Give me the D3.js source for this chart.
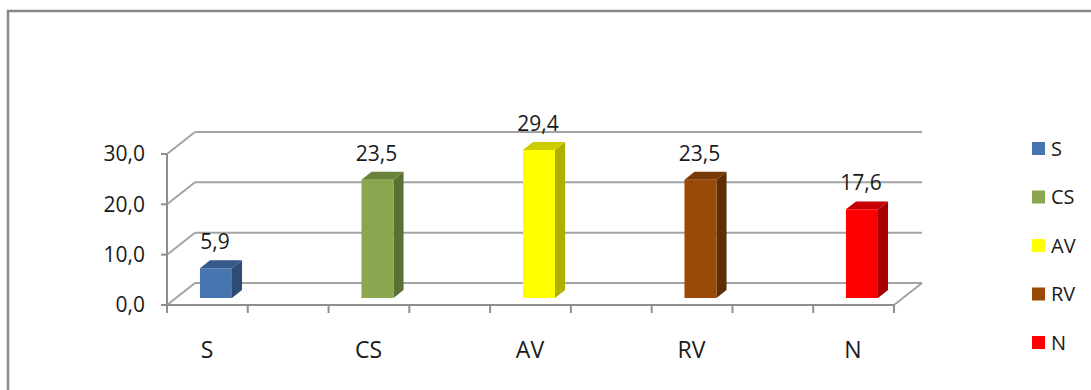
<!DOCTYPE html>
<html lang="en">
<head>
    <meta charset="UTF-8">
    <title>S CS AV RV N</title>
    <script src="https://d3js.org/d3.v7.min.js"></script>
    <style>
        body {
            margin: 0;
            padding: 0;
            background-color: #fff;
            font-family: "Open Sans", Arial, sans-serif;
        }

        #chart {
            display: block;
        }

        .grid {
            stroke: #a3a3a3;
            stroke-width: 2px;
            fill: none;
        }

        .axis-line {
            stroke: #8f8f8f;
            stroke-width: 2px;
            fill: none;
        }

        .tick-label {
            font-size: 21px;
            fill: #1a1a1a;
        }

        .cat-label {
            font-size: 23px;
            fill: #1a1a1a;
        }

        .legend-label {
            font-size: 20px;
            fill: #1a1a1a;
        }
    </style>
</head>
<body>
<svg id="chart" width="1091" height="390"></svg>

<script>
    // Data
    const categories = ['S', 'CS', 'AV', 'RV', 'N'];
    const values = [5.9, 23.5, 29.4, 23.5, 17.6];
    const yTicks = [0, 10, 20, 30];
    const yTickLabels = ['0,0', '10,0', '20,0', '30,0'];

    // front / side / top colours for each bar
    const frontColors = ['#4675b0', '#8aa64e', '#ffff00', '#9a4a07', '#ff0000'];
    const sideColors = ['#2e4d75', '#5c7033', '#b0b000', '#5f2d03', '#a80000'];
    const topColors = ['#335a8a', '#6a833a', '#cccc00', '#773905', '#c40000'];

    const svg = d3.select('#chart');

    // Outer frame (goes off the right and bottom edge)
    svg.append('rect')
        .attr('x', 8)
        .attr('y', 11)
        .attr('width', 1200)
        .attr('height', 500)
        .attr('fill', 'none')
        .attr('stroke', '#8a8a8a')
        .attr('stroke-width', 2.5);

    // 3D setup: depth offset for the back wall
    const depthX = 28;
    const depthY = -22;

    // Scales
    const y = d3.scaleLinear().domain([0, 30]).range([305, 154]);
    const floorX = d3.scaleLinear().domain([0, 9]).range([167, 894]);
    const x = d3.scalePoint().domain(categories).range([207, 853]);
    const barWidth = 32;
    const barFront = 0.32;
    const barBack = 0.68;

    function proj(px, v, d) {
        return [px + depthX * d, y(v) + depthY * d];
    }

    const xLeft = floorX(0);
    const xRight = floorX(9);

    // Back wall gridlines
    svg.append('g')
        .selectAll('line')
        .data(yTicks)
        .join('line')
        .attr('class', 'grid')
        .attr('x1', xLeft + depthX)
        .attr('x2', xRight + depthX)
        .attr('y1', d => y(d) + depthY)
        .attr('y2', d => y(d) + depthY);

    // Side wall lines (front axis to back wall)
    svg.append('g')
        .selectAll('line')
        .data(yTicks)
        .join('line')
        .attr('class', 'grid')
        .attr('x1', xLeft)
        .attr('x2', xLeft + depthX)
        .attr('y1', d => y(d))
        .attr('y2', d => y(d) + depthY);

    // Floor right edge
    svg.append('line')
        .attr('class', 'grid')
        .attr('x1', xRight)
        .attr('y1', y(0))
        .attr('x2', xRight + depthX)
        .attr('y2', y(0) + depthY);

    // Front vertical axis
    svg.append('line')
        .attr('class', 'axis-line')
        .attr('x1', xLeft)
        .attr('x2', xLeft)
        .attr('y1', y(30))
        .attr('y2', y(0));

    // Y ticks and labels
    svg.append('g')
        .selectAll('line')
        .data(yTicks)
        .join('line')
        .attr('class', 'axis-line')
        .attr('x1', xLeft - 6)
        .attr('x2', xLeft)
        .attr('y1', d => y(d))
        .attr('y2', d => y(d));

    svg.append('g')
        .selectAll('text')
        .data(yTicks)
        .join('text')
        .attr('class', 'tick-label')
        .attr('x', xLeft - 22)
        .attr('y', d => y(d))
        .attr('dy', '0.35em')
        .attr('text-anchor', 'end')
        .text((d, i) => yTickLabels[i]);

    // Front bottom axis with ticks
    svg.append('line')
        .attr('class', 'axis-line')
        .attr('x1', xLeft)
        .attr('x2', xRight)
        .attr('y1', y(0))
        .attr('y2', y(0));

    svg.append('g')
        .selectAll('line')
        .data(d3.range(10))
        .join('line')
        .attr('class', 'axis-line')
        .attr('x1', d => floorX(d))
        .attr('x2', d => floorX(d))
        .attr('y1', y(0))
        .attr('y2', y(0) + 8);

    // Category labels
    svg.append('g')
        .selectAll('text')
        .data(categories)
        .join('text')
        .attr('class', 'cat-label')
        .attr('x', d => x(d))
        .attr('y', 358)
        .attr('text-anchor', 'middle')
        .text(d => d);

    // Bars as three faces
    const bars = svg.append('g')
        .selectAll('g')
        .data(categories)
        .join('g');

    bars.each(function (c, i) {
        const g = d3.select(this);
        const v = values[i];
        const l = x(c) - barWidth / 2;
        const r = x(c) + barWidth / 2;

        const f0 = proj(l, 0, barFront), f1 = proj(r, 0, barFront);
        const f2 = proj(r, v, barFront), f3 = proj(l, v, barFront);
        const b1 = proj(r, 0, barBack), b2 = proj(r, v, barBack), b3 = proj(l, v, barBack);

        // side
        g.append('polygon')
            .attr('points', [f1, b1, b2, f2].join(' '))
            .attr('fill', sideColors[i]);
        // top
        g.append('polygon')
            .attr('points', [f3, f2, b2, b3].join(' '))
            .attr('fill', topColors[i]);
        // front
        g.append('polygon')
            .attr('points', [f0, f1, f2, f3].join(' '))
            .attr('fill', frontColors[i]);

        // value label
        g.append('text')
            .attr('class', 'tick-label')
            .attr('x', x(c) + 8)
            .attr('y', b3[1] - 11)
            .attr('text-anchor', 'middle')
            .text(d3.format('.1f')(v).replace('.', ','));
    });

    // Legend
    const ly = d3.scalePoint().domain(categories).range([148.5, 342.5]);
    const legend = svg.append('g')
        .selectAll('g')
        .data(categories)
        .join('g')
        .attr('transform', d => `translate(1032,${ly(d)})`);

    legend.append('rect')
        .attr('x', 0)
        .attr('y', -6.5)
        .attr('width', 13)
        .attr('height', 13)
        .attr('fill', (d, i) => frontColors[i]);

    legend.append('text')
        .attr('class', 'legend-label')
        .attr('x', 19)
        .attr('y', 0)
        .attr('dy', '0.35em')
        .text(d => d);
</script>
</body>
</html>
